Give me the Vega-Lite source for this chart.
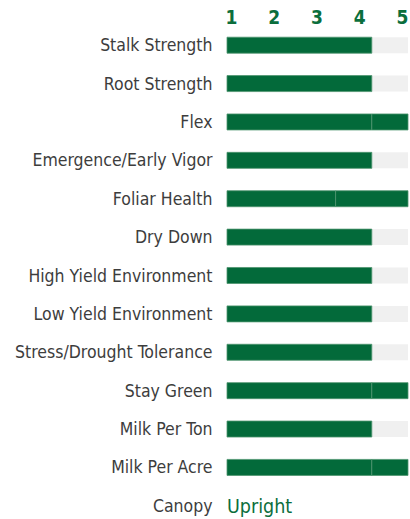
{
  "$schema": "https://vega.github.io/schema/vega-lite/v6.json",
  "autosize": {"type": "none"},
  "padding": {"left": 227, "top": 26, "right": 2, "bottom": 0},
  "width": 181,
  "height": 499,
  "background": "white",
  "config": {"view": {"stroke": null}},
  "datasets": {
    "traits": [
      {"trait": "Stalk Strength"},
      {"trait": "Root Strength"},
      {"trait": "Flex"},
      {"trait": "Emergence/Early Vigor"},
      {"trait": "Foliar Health"},
      {"trait": "Dry Down"},
      {"trait": "High Yield Environment"},
      {"trait": "Low Yield Environment"},
      {"trait": "Stress/Drought Tolerance"},
      {"trait": "Stay Green"},
      {"trait": "Milk Per Ton"},
      {"trait": "Milk Per Acre"}
    ],
    "segments": [
      {"trait": "Stalk Strength", "start": 0, "end": 4},
      {"trait": "Root Strength", "start": 0, "end": 4},
      {"trait": "Flex", "start": 0, "end": 4},
      {"trait": "Flex", "start": 4, "end": 5},
      {"trait": "Emergence/Early Vigor", "start": 0, "end": 4},
      {"trait": "Foliar Health", "start": 0, "end": 3},
      {"trait": "Foliar Health", "start": 3, "end": 5},
      {"trait": "Dry Down", "start": 0, "end": 4},
      {"trait": "High Yield Environment", "start": 0, "end": 4},
      {"trait": "Low Yield Environment", "start": 0, "end": 4},
      {"trait": "Stress/Drought Tolerance", "start": 0, "end": 4},
      {"trait": "Stay Green", "start": 0, "end": 4},
      {"trait": "Stay Green", "start": 4, "end": 5},
      {"trait": "Milk Per Ton", "start": 0, "end": 4},
      {"trait": "Milk Per Acre", "start": 0, "end": 4},
      {"trait": "Milk Per Acre", "start": 4, "end": 5}
    ],
    "canopy": [{"trait": "Canopy", "label": "Upright"}],
    "scale": [{"n": 1}, {"n": 2}, {"n": 3}, {"n": 4}, {"n": 5}]
  },
  "encoding": {
    "y": {
      "field": "trait",
      "type": "nominal",
      "scale": {
        "type": "band",
        "paddingInner": 0.583,
        "paddingOuter": 0.2915,
        "domain": ["Stalk Strength", "Root Strength", "Flex", "Emergence/Early Vigor", "Foliar Health", "Dry Down", "High Yield Environment", "Low Yield Environment", "Stress/Drought Tolerance", "Stay Green", "Milk Per Ton", "Milk Per Acre", "Canopy"]
      },
      "axis": {
        "title": null,
        "domain": false,
        "ticks": false,
        "grid": false,
        "labelPadding": 15,
        "labelOffset": 1,
        "labelFont": "Liberation Sans Narrow, DejaVu Sans Condensed, sans-serif",
        "labelFontSize": 17.5,
        "labelColor": "#3d3d3d",
        "labelLimit": 300
      }
    }
  },
  "layer": [
    {
      "layer": [
        {
          "data": {"name": "traits"},
          "mark": {"type": "bar", "color": "#f0f0f0"},
          "encoding": {
            "x": {"datum": 0, "type": "quantitative", "scale": {"domain": [0, 5]}, "axis": null},
            "x2": {"datum": 5}
          }
        },
        {
          "data": {"name": "segments"},
          "mark": {"type": "bar", "color": "#036a3a", "stroke": "#4f9570", "strokeWidth": 0.8},
          "encoding": {
            "x": {"field": "start", "type": "quantitative", "scale": {"domain": [0, 5]}, "axis": null},
            "x2": {"field": "end"}
          }
        },
        {
          "data": {"name": "canopy"},
          "mark": {"type": "text", "align": "left", "baseline": "middle", "dy": 1, "font": "Liberation Sans Narrow, DejaVu Sans Condensed, sans-serif", "fontSize": 19.5, "color": "#0b6e3c"},
          "encoding": {
            "x": {"datum": 0, "type": "quantitative", "scale": {"domain": [0, 5]}, "axis": null},
            "text": {"field": "label"}
          }
        }
      ]
    },
    {
      "data": {"name": "scale"},
      "mark": {"type": "point", "opacity": 0},
      "encoding": {
        "x": {
          "field": "n",
          "type": "quantitative",
          "scale": {"domain": [0.906, 5.14], "nice": false, "zero": false},
          "axis": {
            "orient": "top",
            "title": null,
            "values": [1, 2, 3, 4, 5],
            "format": "d",
            "domain": false,
            "ticks": false,
            "grid": false,
            "labelPadding": -1,
            "labelFont": "Liberation Sans Narrow, DejaVu Sans Condensed, sans-serif",
            "labelFontSize": 19,
            "labelFontWeight": "bold",
            "labelColor": "#0b6e3c",
            "labelFlush": false
          }
        }
      }
    }
  ],
  "resolve": {"scale": {"x": "independent"}}
}
